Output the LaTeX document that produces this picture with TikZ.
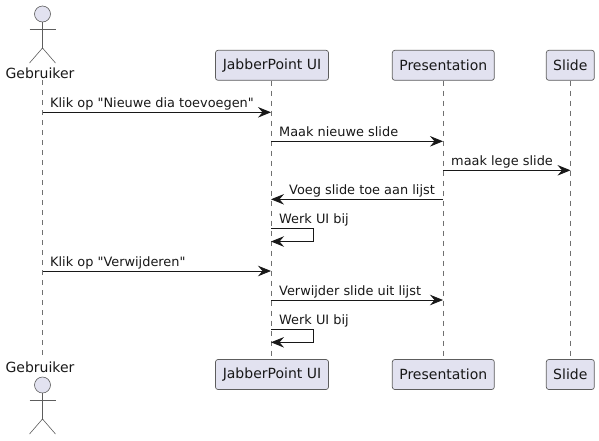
\documentclass[tikz,border=0pt]{standalone}
\usepackage{fontspec}
\newfontfamily\plainsans{DejaVu Sans}
\usetikzlibrary{arrows.meta}
\definecolor{partfill}{HTML}{E2E2F0}
\definecolor{edgecol}{HTML}{181818}
\definecolor{lifecol}{HTML}{707070}
\tikzset{
  partbox/.style={draw=edgecol!70,line width=0.7pt,fill=partfill,rounded corners=2.5pt,minimum height=30pt,inner sep=0pt,text=edgecol,font=\plainsans\fontsize{14}{16}\selectfont,anchor=center},
  actorname/.style={text=edgecol,font=\plainsans\fontsize{14}{16}\selectfont,inner sep=0pt,anchor=base},
  msglabel/.style={text=edgecol,font=\plainsans\fontsize{12.9}{15}\selectfont,inner sep=0pt,anchor=base west},
  msg/.style={draw=edgecol,line width=0.8pt,-{Stealth[length=13pt,width=10.5pt,inset=4.5pt]}},
  lifeline/.style={draw=lifecol,line width=0.6pt,dash pattern=on 5pt off 5pt},
  actorhead/.style={circle,draw=edgecol!70,line width=0.6pt,fill=partfill,minimum size=16pt,inner sep=0pt},
  actorline/.style={draw=edgecol!70,line width=0.6pt}
}
\begin{document}
\begin{tikzpicture}[x=1pt,y=-1pt]
\useasboundingbox (0,0) rectangle (599,440);
\coordinate (gt) at (42.5,80);
\coordinate (gb) at (42.5,358);
\node[partbox,minimum width=113pt] (jt) at (272,65.3) {JabberPoint UI};
\node[partbox,minimum width=102pt] (pt) at (443.3,65.3) {Presentation};
\node[partbox,minimum width=48pt] (st) at (570.3,65.3) {Slide};
\node[partbox,minimum width=113pt] (jb) at (272,374.5) {JabberPoint UI};
\node[partbox,minimum width=102pt] (pb) at (443.3,374.5) {Presentation};
\node[partbox,minimum width=48pt] (sb) at (570.3,374.5) {Slide};
\coordinate (jx) at (271,0);
\coordinate (px) at (443,0);
\coordinate (sx) at (570.5,0);
\draw[lifeline] (gt) -- (gb);
\draw[lifeline] (jx |- jt.south) -- (jx |- jb.north);
\draw[lifeline] (px |- pt.south) -- (px |- pb.north);
\draw[lifeline] (sx |- st.south) -- (sx |- sb.north);
\node[actorhead] (ah1) at (42.5,14) {};
\coordinate (hip1) at (42.5,48);
\draw[actorline] (ah1.south) -- (hip1);
\draw[actorline] (29.5,29) -- (55.5,29);
\draw[actorline] (29.5,63) -- (hip1) -- (55.5,63);
\node[actorname] (an1) at (40,78) {Gebruiker};
\node[actorname] (an2) at (40,372) {Gebruiker};
\node[actorhead] (ah2) at (42.5,385) {};
\coordinate (hip2) at (42.5,419);
\draw[actorline] (ah2.south) -- (hip2);
\draw[actorline] (29.5,400) -- (55.5,400);
\draw[actorline] (29.5,434) -- (hip2) -- (55.5,434);
\coordinate (r1) at (0,112.3);
\coordinate (r2) at (0,141.3);
\coordinate (r3) at (0,170.3);
\coordinate (r4) at (0,199.3);
\coordinate (r5a) at (0,228.5);
\coordinate (r5b) at (0,241.5);
\coordinate (r6) at (0,271);
\coordinate (r7) at (0,300);
\coordinate (r8a) at (0,329.3);
\coordinate (r8b) at (0,342.3);
\coordinate (loopx) at (313.5,0);
\draw[msg] (gt |- r1) -- (jx |- r1);
\node[msglabel] (l1) at (50,107) {Klik op "Nieuwe dia toevoegen"};
\draw[msg] (jx |- r2) -- (px |- r2);
\node[msglabel] (l2) at (279,136) {Maak nieuwe slide};
\draw[msg] (px |- r3) -- (sx |- r3);
\node[msglabel] (l3) at (451,165) {maak lege slide};
\draw[msg] (px |- r4) -- (jx |- r4);
\node[msglabel] (l4) at (289,194) {Voeg slide toe aan lijst};
\draw[msg] (jx |- r5a) -- (loopx |- r5a) -- (loopx |- r5b) -- (jx |- r5b);
\node[msglabel] (l5) at (279,223) {Werk UI bij};
\draw[msg] (gt |- r6) -- (jx |- r6);
\node[msglabel] (l6) at (50,266) {Klik op "Verwijderen"};
\draw[msg] (jx |- r7) -- (px |- r7);
\node[msglabel] (l7) at (279,295) {Verwijder slide uit lijst};
\draw[msg] (jx |- r8a) -- (loopx |- r8a) -- (loopx |- r8b) -- (jx |- r8b);
\node[msglabel] (l8) at (279,324) {Werk UI bij};
\end{tikzpicture}
\end{document}
